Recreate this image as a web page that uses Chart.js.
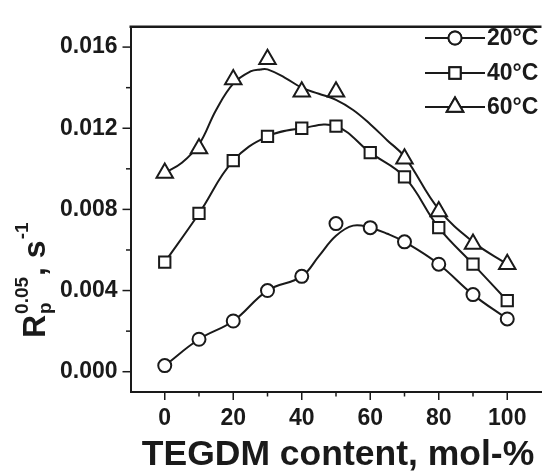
<!DOCTYPE html>
<html>
<head>
<meta charset="utf-8">
<script src="https://cdn.jsdelivr.net/npm/chart.js@4/dist/chart.umd.min.js"></script>
<style>
  html, body { margin: 0; padding: 0; background: #fff; }
  #wrap { width: 553px; height: 476px; }
</style>
</head>
<body>
<div id="wrap"><canvas id="c" width="553" height="476"></canvas></div>
<script>
// TEGDM content, mol-%
const content = [0, 10, 20, 30, 40, 50, 60, 70, 80, 90, 100];

// Measured rates R_p^0.05 (s^-1)
const rate20 = [0.0003, 0.0016, 0.0025, 0.0040, 0.0047, 0.0073, 0.0071, 0.0064, 0.0053, 0.0038, 0.0026];
const rate40 = [0.0054, 0.0078, 0.0104, 0.0116, 0.0120, 0.0121, 0.0108, 0.0096, 0.0071, 0.0053, 0.0035];
const rate60 = [0.0098, 0.0110, 0.0144, 0.0154, 0.0138, 0.0138, null, 0.0105, 0.0079, 0.0063, 0.0053];

// Smoothed guide curves
const curve20X = [0, 10, 20, 30, 40, 45, 50, 55, 60, 65, 70, 80, 90, 100];
const curve20Y = [0.0003, 0.0016, 0.0025, 0.0040, 0.0047, 0.0057, 0.0067, 0.0072, 0.0071, 0.0068, 0.0064, 0.0053, 0.0038, 0.0026];
const curve60X = [0, 5, 10, 15, 20, 25, 28, 30, 35, 40, 45, 50, 55, 60, 65, 70, 80, 90, 100];
const curve60Y = [0.0098, 0.0103, 0.0112, 0.0129, 0.0142, 0.0148, 0.0149, 0.0149, 0.0145, 0.0140, 0.0137, 0.0134, 0.0129, 0.0122, 0.0114, 0.0106, 0.0080, 0.0064, 0.0053];

// Axis ticks
const xMajor = [0, 20, 40, 60, 80, 100];
const xMinor = [10, 30, 50, 70, 90];
const yMajor = [0.000, 0.004, 0.008, 0.012, 0.016];
const yMinor = [0.002, 0.006, 0.010, 0.014];

const seriesNames = ['20°C', '40°C', '60°C'];

const INK = '#1a1a1a';
const FONT = '"Liberation Sans", Arial, sans-serif';

const pts = (xs, ys) => xs.map((x, i) => ({ x: x, y: ys[i] })).filter(p => p.y !== null);

const markerBase = {
  showLine: false,
  backgroundColor: '#fff',
  borderColor: INK,
  pointBackgroundColor: '#fff',
  pointBorderColor: INK,
  pointBorderWidth: 2,
  order: 1
};
const curveBase = {
  showLine: true,
  pointRadius: 0,
  borderColor: INK,
  borderWidth: 2,
  tension: 0.4,
  fill: false,
  order: 2
};

const datasets = [
  Object.assign({}, curveBase, { label: 'fit20', data: pts(curve20X, curve20Y) }),
  Object.assign({}, curveBase, { label: 'fit60', data: pts(curve60X, curve60Y) }),
  Object.assign({}, curveBase, { label: 'line40', data: pts(content, rate40) }),
  Object.assign({}, markerBase, { label: seriesNames[0], data: pts(content, rate20), pointStyle: 'circle', pointRadius: 6.5 }),
  Object.assign({}, markerBase, { label: seriesNames[1], data: pts(content, rate40), pointStyle: 'rect', pointRadius: 8 }),
  Object.assign({}, markerBase, { label: seriesNames[2], data: pts(content, rate60), pointStyle: 'triangle', pointRadius: 9.5 })
];

// Tick marks, frame top line, axis titles and the legend
const decorations = {
  id: 'decorations',
  afterDraw(chart) {
    const ctx = chart.ctx;
    const xs = chart.scales.x, ys = chart.scales.y;
    const area = chart.chartArea;
    ctx.save();
    ctx.strokeStyle = INK;
    ctx.fillStyle = INK;

    // top frame line
    ctx.lineWidth = 2.5;
    ctx.beginPath();
    ctx.moveTo(area.left - 1, area.top);
    ctx.lineTo(area.right, area.top);
    ctx.stroke();

    // tick marks (outward)
    ctx.lineWidth = 1.5;
    const tick = (x1, y1, x2, y2) => { ctx.beginPath(); ctx.moveTo(x1, y1); ctx.lineTo(x2, y2); ctx.stroke(); };
    xMajor.forEach(v => { const p = xs.getPixelForValue(v); tick(p, area.bottom, p, area.bottom + 8); });
    xMinor.forEach(v => { const p = xs.getPixelForValue(v); tick(p, area.bottom, p, area.bottom + 4.5); });
    yMajor.forEach(v => { const p = ys.getPixelForValue(v); tick(area.left, p, area.left - 8, p); });
    yMinor.forEach(v => { const p = ys.getPixelForValue(v); tick(area.left, p, area.left - 4.5, p); });

    // x-axis title
    ctx.font = 'bold 35.5px ' + FONT;
    ctx.textAlign = 'center';
    ctx.textBaseline = 'alphabetic';
    ctx.fillText('TEGDM content, mol-%', 338, 465);

    // y-axis title: R_p^0.05, s^-1 (rotated)
    ctx.save();
    ctx.translate(45, 338);
    ctx.rotate(-Math.PI / 2);
    ctx.textAlign = 'left';
    const big = 'bold 32px ' + FONT, small = 'bold 19px ' + FONT;
    let x = 0;
    ctx.font = big; ctx.fillText('R', x, 0); x += ctx.measureText('R').width + 1;
    ctx.font = small;
    ctx.fillText('p', x, 6);
    ctx.fillText('0.05', x, -17);
    x += Math.max(ctx.measureText('p').width, ctx.measureText('0.05').width) + 1;
    ctx.font = big; ctx.fillText(', s', x, 0); x += ctx.measureText(', s').width + 1;
    ctx.font = small; ctx.fillText('-1', x, -17);
    ctx.restore();

    // legend: line + marker + label
    const rows = [38, 73, 107];
    [3, 4, 5].forEach((di, i) => {
      const ds = chart.data.datasets[di];
      const y = rows[i];
      ctx.lineWidth = 2;
      tick(425, y, 485, y);
      Chart.helpers.drawPoint(ctx, { pointStyle: ds.pointStyle, radius: ds.pointRadius, borderWidth: 2 }, 455, y);
      ctx.fillStyle = '#fff';
      ctx.fill();
      ctx.stroke();
      ctx.fillStyle = INK;
      ctx.font = 'bold 23px ' + FONT;
      ctx.textAlign = 'left';
      ctx.textBaseline = 'middle';
      ctx.fillText(ds.label, 487, y + 1);
    });
    ctx.restore();
  }
};

new Chart(document.getElementById('c'), {
  type: 'scatter',
  data: { datasets: datasets },
  options: {
    responsive: false,
    animation: false,
    devicePixelRatio: 1,
    layout: { padding: { top: 14, right: 0, left: 0, bottom: 0 } },
    plugins: { legend: { display: false }, tooltip: { enabled: false } },
    scales: {
      x: {
        type: 'linear',
        min: -10, max: 110,
        afterBuildTicks: s => { s.ticks = xMajor.map(v => ({ value: v })); },
        afterFit: s => { s.height = 84; },
        grid: { drawOnChartArea: false, drawTicks: false },
        border: { display: true, color: INK, width: 2 },
        ticks: { color: INK, font: { family: FONT, size: 23, weight: 'bold' }, padding: 13, maxRotation: 0,
                 callback: v => String(v) }
      },
      y: {
        type: 'linear',
        min: -0.001, max: 0.017,
        afterBuildTicks: s => { s.ticks = yMajor.map(v => ({ value: v })); },
        afterFit: s => { s.width = 130.5; },
        grid: { drawOnChartArea: false, drawTicks: false },
        border: { display: true, color: INK, width: 2 },
        ticks: { color: INK, font: { family: FONT, size: 23, weight: 'bold' }, padding: 13,
                 callback: v => v.toFixed(3) }
      }
    }
  },
  plugins: [decorations]
});
</script>
</body>
</html>
